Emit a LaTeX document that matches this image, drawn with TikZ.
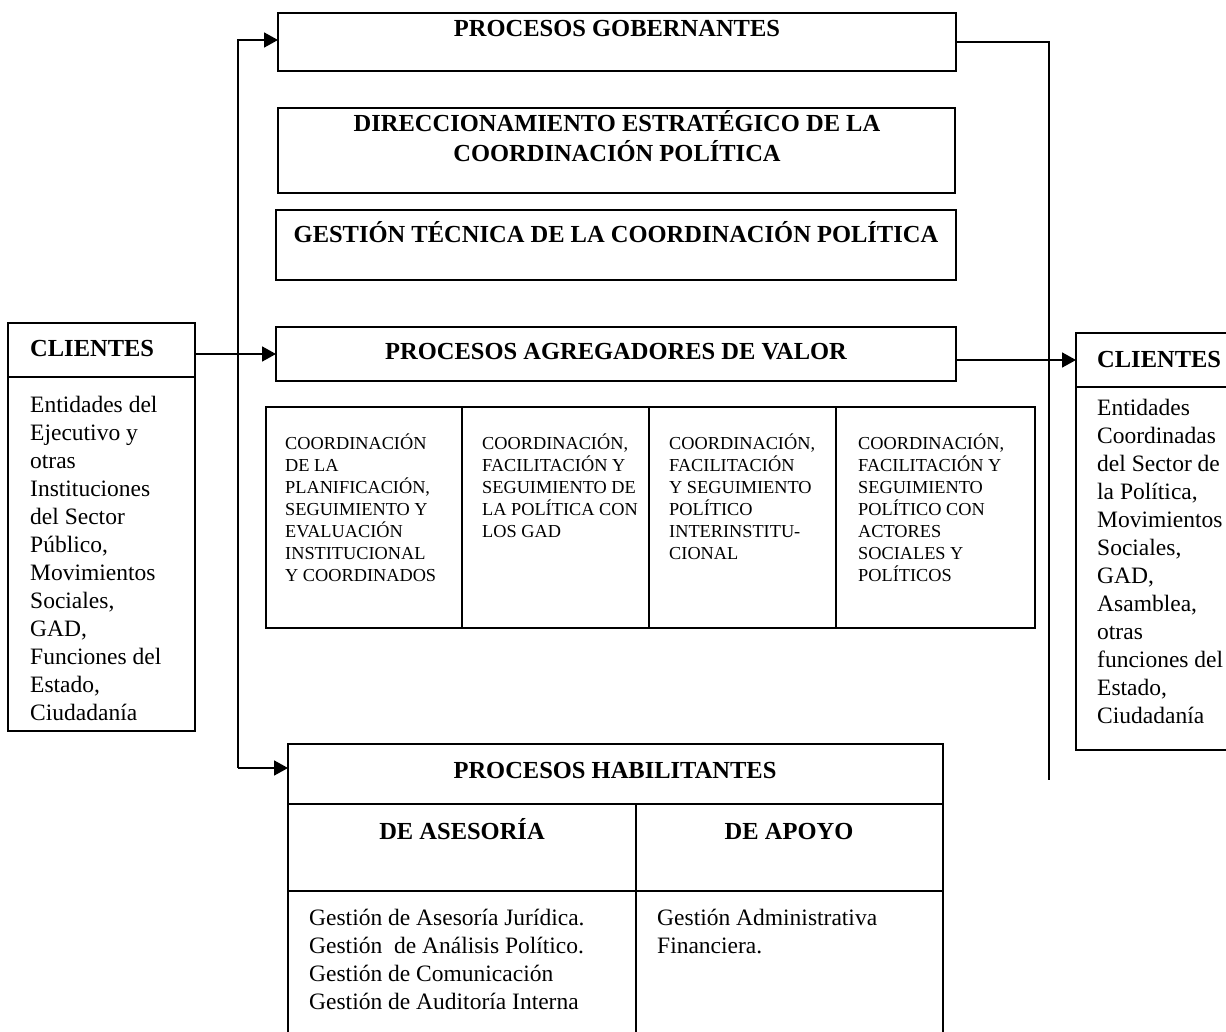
\documentclass[tikz,border=0pt]{standalone}
\usepackage{fontspec}
\setmainfont{Liberation Serif}
\usetikzlibrary{arrows.meta,positioning}

\begin{document}
\begin{tikzpicture}[x=1pt,y=-1pt,
  frame/.style={draw, line width=1.7pt, inner sep=0pt, outer sep=0pt, anchor=north west},
  head/.style={font=\fontsize{24.5}{30}\selectfont\bfseries, align=center, inner sep=0pt},
  body/.style={font=\fontsize{23.5}{28}\selectfont, align=left, inner sep=0pt, anchor=north west},
  small/.style={font=\fontsize{18.3}{22}\selectfont, align=left, inner sep=0pt, anchor=north west},
  link/.style={line width=1.7pt},
  arr/.style={link, -{Triangle[length=14pt,width=15pt]}}]

\useasboundingbox (0,0) rectangle (1226,1032);
\clip (0,0) rectangle (1226,1032);

% procesos gobernantes
\node[frame, minimum width=678pt, minimum height=58pt] (gob) at (278,13) {};
\node[head, anchor=base] (gobtxt) at (617,37) {PROCESOS GOBERNANTES};
\node[frame, minimum width=677pt, minimum height=85pt] (dir) at (278,108) {};
\node[head, anchor=north] (dirtxt) at (617,110) {DIRECCIONAMIENTO ESTRATÉGICO DE LA\\COORDINACIÓN POLÍTICA};
\node[frame, minimum width=680pt, minimum height=70pt] (tec) at (276,210) {};
\node[head, anchor=base] (tectxt) at (616,243) {GESTIÓN TÉCNICA DE LA COORDINACIÓN POLÍTICA};

% procesos agregadores de valor
\node[frame, minimum width=680pt, minimum height=54pt] (agr) at (276,327) {};
\node[head, anchor=base] (agrtxt) at (616,359) {PROCESOS AGREGADORES DE VALOR};
\node[frame, minimum width=196pt, minimum height=221pt] (col1) at (266,407) {};
\node[frame, minimum width=187pt, minimum height=221pt] (col2) at (462,407) {};
\node[frame, minimum width=187pt, minimum height=221pt] (col3) at (649,407) {};
\node[frame, minimum width=199pt, minimum height=221pt] (col4) at (836,407) {};
\node[small] (col1txt) at (285,434) {COORDINACIÓN\\DE LA\\PLANIFICACIÓN,\\SEGUIMIENTO Y\\EVALUACIÓN\\INSTITUCIONAL\\Y COORDINADOS};
\node[small] (col2txt) at (482,434) {COORDINACIÓN,\\FACILITACIÓN Y\\SEGUIMIENTO DE\\LA POLÍTICA CON\\LOS GAD};
\node[small] (col3txt) at (669,434) {COORDINACIÓN,\\FACILITACIÓN\\Y SEGUIMIENTO\\POLÍTICO\\INTERINSTITU-\\CIONAL};
\node[small] (col4txt) at (858,434) {COORDINACIÓN,\\FACILITACIÓN Y\\SEGUIMIENTO\\POLÍTICO CON\\ACTORES\\SOCIALES Y\\POLÍTICOS};

% procesos habilitantes
\node[frame, minimum width=655pt, minimum height=60pt] (hab) at (288,744) {};
\node[head, anchor=base] (habtxt) at (615,778) {PROCESOS HABILITANTES};
\node[frame, minimum width=348pt, minimum height=87pt] (ase) at (288,804) {};
\node[frame, minimum width=307pt, minimum height=87pt] (apo) at (636,804) {};
\node[head, anchor=base] (asetxt) at (462,839) {DE ASESORÍA};
\node[head, anchor=base] (apotxt) at (789,839) {DE APOYO};
\node[frame, minimum width=348pt, minimum height=160pt] (aselist) at (288,891) {};
\node[frame, minimum width=307pt, minimum height=160pt] (apolist) at (636,891) {};
\node[body] (aselisttxt) at (309,909) {Gestión de Asesoría Jurídica.\\Gestión\ \ de Análisis Político.\\Gestión de Comunicación\\Gestión de Auditoría Interna};
\node[body] (apolisttxt) at (657,909) {Gestión Administrativa\\Financiera.};

% clientes
\node[frame, minimum width=187pt, minimum height=54pt] (cliL) at (8,323) {};
\node[frame, minimum width=187pt, minimum height=354pt] (cliLbody) at (8,377) {};
\node[head, anchor=base west] (cliLtxt) at (30,356) {CLIENTES};
\node[body] (cliLbodytxt) at (30,396) {Entidades del\\Ejecutivo y\\otras\\Instituciones\\del Sector\\Público,\\Movimientos\\Sociales,\\GAD,\\Funciones del\\Estado,\\Ciudadanía};
\node[frame, minimum width=200pt, minimum height=54pt] (cliR) at (1076,333) {};
\node[frame, minimum width=200pt, minimum height=363pt] (cliRbody) at (1076,387) {};
\node[head, anchor=base west] (cliRtxt) at (1097,367) {CLIENTES};
\node[body] (cliRbodytxt) at (1097,399) {Entidades\\Coordinadas\\del Sector de\\la Política,\\Movimientos\\Sociales,\\GAD,\\Asamblea,\\otras\\funciones del\\Estado,\\Ciudadanía};

% conectores
\coordinate (trunkTop) at (238,40);
\coordinate (trunkBot) at (238,768);
\coordinate (rightEnd) at (1049,780);
\draw[arr] (trunkBot) |- (gob.west |- trunkTop);
\draw[arr] (trunkBot) -- (hab.west |- trunkBot);
\draw[arr] (cliL.east |- agr.west) -- (agr.west);
\draw[link] (gob.east) -| (rightEnd);
\draw[arr] (agr.east |- cliR.west) -- (cliR.west);
\end{tikzpicture}
\end{document}
